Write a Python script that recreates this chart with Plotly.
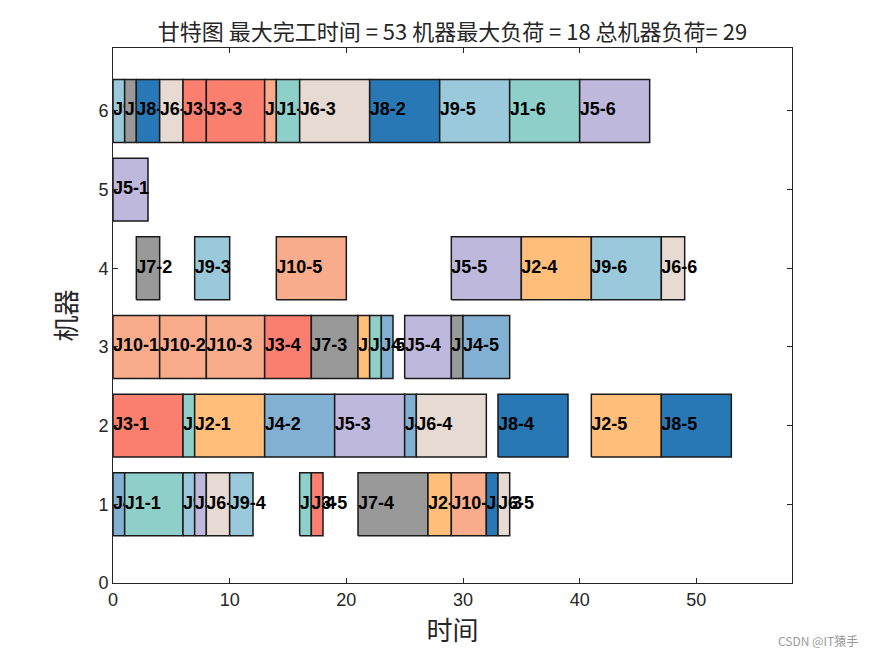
import plotly.graph_objects as go

# ---- data ----
jobs     = [1,1,1,1,1,1, 2,2,2,2,2, 3,3,3,3,3, 4,4,4,4,4, 5,5,5,5,5,5,
            6,6,6,6,6,6, 7,7,7,7,7, 8,8,8,8,8, 9,9,9,9,9,9, 10,10,10,10,10,10]
ops      = [1,2,3,4,5,6, 1,2,3,4,5, 1,2,3,4,5, 1,2,3,4,5, 1,2,3,4,5,6,
            1,2,3,4,5,6, 1,2,3,4,5, 1,2,3,4,5, 1,2,3,4,5,6, 1,2,3,4,5,6]
machines = [1,2,6,1,3,6, 2,3,1,4,2, 2,6,6,3,1, 1,2,3,2,3, 5,1,2,3,4,6,
            6,1,6,2,1,4, 6,4,3,1,3, 6,6,1,2,2, 6,1,4,1,6,4, 3,3,3,6,4,1]
starts   = [1,6,14,16,22,34, 7,21,27,35,41, 0,6,8,13,17, 0,13,23,25,30, 0,7,19,25,29,40,
            4,8,16,26,33,47, 1,2,17,21,29, 2,22,32,33,47, 0,6,7,10,28,41, 0,4,8,13,14,29]
ends     = [6,7,16,17,23,40, 13,22,29,41,47, 6,8,13,17,18, 1,19,24,26,34, 3,8,25,29,35,46,
            6,10,22,32,34,49, 2,4,21,27,30, 4,28,33,39,53, 1,7,10,12,34,47, 4,8,13,14,20,32]
job_colors = ["#8ECFC9", "#FFBE7A", "#FA7F6F", "#82B0D2", "#BEB8DC",
              "#E7DAD2", "#999999", "#2878B5", "#9AC9DB", "#F8AC8C"]
title_text = "甘特图 最大完工时间 = 53 机器最大负荷 = 18 总机器负荷= 29"
x_ticks = [0, 10, 20, 30, 40, 50]
y_ticks = [0, 1, 2, 3, 4, 5, 6]

half_h = 0.4
fig = go.Figure()
order = sorted(range(len(jobs)), key=lambda i: (starts[i], machines[i]))
for i in order:
    s, e, m = starts[i], ends[i], machines[i]
    fig.add_trace(go.Scatter(
        x=[s, e, e, s, s], y=[m - half_h, m - half_h, m + half_h, m + half_h, m - half_h],
        mode="lines", fill="toself", fillcolor=job_colors[jobs[i] - 1],
        line=dict(color="#1a1a1a", width=1.5), hoverinfo="skip", showlegend=False))
    fig.add_trace(go.Scatter(
        x=[s], y=[m], mode="text", text=[f"J{jobs[i]}-{ops[i]}"],
        textposition="middle right", marker=dict(size=1),
        textfont=dict(family="Liberation Sans, Arial", size=18, color="black", weight="bold"),
        hoverinfo="skip", showlegend=False))

axis_common = dict(showline=True, linecolor="#262626", linewidth=1, mirror="ticks",
                   ticks="inside", ticklen=5, tickcolor="#262626", showgrid=False,
                   zeroline=False,
                   tickfont=dict(family="Liberation Sans, Arial", size=18, color="#262626"))
fig.update_xaxes(range=[0, 58.2], tickvals=x_ticks, **axis_common,
                 title=dict(text="时间", standoff=12,
                            font=dict(family="Noto Sans CJK SC", size=26, color="#262626")))
fig.update_yaxes(range=[0, 6.8], tickvals=y_ticks, **axis_common,
                 title=dict(text="机器", standoff=14,
                            font=dict(family="Noto Sans CJK SC", size=26, color="#262626")))

fig.update_layout(
    width=875, height=656, margin=dict(l=113, r=83, t=48, b=73),
    paper_bgcolor="white", plot_bgcolor="white",
    title=dict(text=title_text, x=(113 + 792) / 2 / 875, xanchor="center",
               y=1 - 32 / 656, yanchor="middle",
               font=dict(family="Noto Sans CJK SC", size=22, color="#262626")),
    annotations=[dict(text="CSDN @IT猿手", xref="paper", yref="paper",
                      x=1.1, y=-0.107, xanchor="right", yanchor="middle", showarrow=False,
                      font=dict(family="Noto Sans CJK SC", size=12, color="#9a9a9a"))],
)
fig.write_html("out.html")
